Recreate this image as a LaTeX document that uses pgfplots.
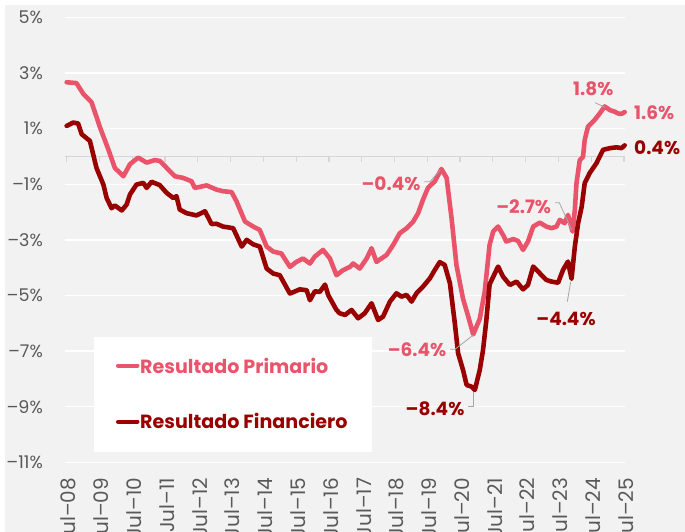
\documentclass[border=0pt]{standalone}
\usepackage{pgfplots}
\pgfplotsset{compat=1.18}
\usepackage{fontspec}
\setmainfont{Poppins}
\definecolor{prim}{HTML}{E9546B}
\definecolor{fin}{HTML}{990000}
\definecolor{bg}{HTML}{F2F2F2}
\definecolor{ticktext}{HTML}{595959}
\definecolor{leader}{HTML}{A6A6A6}
\definecolor{zeroline}{HTML}{D6D6D6}
\begin{document}
\begin{tikzpicture}[x=1pt,y=1pt]
\fill[white] (0,0) rectangle (685,532);
\fill[bg] (5,0) rectangle (685,527);
\path[use as bounding box] (0,0) rectangle (685,532);
\begin{axis}[
  at={(65pt,69.7pt)}, anchor=south west, scale only axis,
  width=560pt, height=444.8pt,
  xmin=2008.45, xmax=2025.53, ymin=-11, ymax=5,
  axis line style={draw=none}, major tick length=0pt,
  ytick={-11,-9,-7,-5,-3,-1,1,3,5},
  yticklabels={\textendash11\%,\textendash9\%,\textendash7\%,\textendash5\%,\textendash3\%,\textendash1\%,1\%,3\%,5\%},
  ymajorgrids, grid style={white, line width=1.5pt},
  xtick={2008.5,2009.5,2010.5,2011.5,2012.5,2013.5,2014.5,2015.5,2016.5,2017.5,2018.5,2019.5,2020.5,2021.5,2022.5,2023.5,2024.5,2025.5},
  xticklabels={Jul\textendash08,Jul\textendash09,Jul\textendash10,Jul\textendash11,Jul\textendash12,Jul\textendash13,Jul\textendash14,Jul\textendash15,Jul\textendash16,Jul\textendash17,Jul\textendash18,Jul\textendash19,Jul\textendash20,Jul\textendash21,Jul\textendash22,Jul\textendash23,Jul\textendash24,Jul\textendash25},
  yticklabel style={anchor=east, inner sep=0pt, xshift=-22pt, text=ticktext, font=\fontsize{17.5}{20}\selectfont},
  xticklabel shift=15.5pt,
  xticklabel style={rotate=90, anchor=east, inner sep=0pt, yshift=-2pt, text=ticktext, font=\fontsize{20}{23}\selectfont},
  clip=false,
]
\draw[zeroline, line width=1.5pt] (axis cs:2008.45,0) -- (axis cs:2025.53,0);
\pgfplotsinvokeforeach{0,...,17}{\draw[zeroline, line width=1.2pt] (axis cs:{2008.5+#1},0) -- ++(0pt,-6pt);}
\addplot[prim, line width=4.6pt, line join=round, line cap=round] coordinates {
(2008.50,2.67)(2008.80,2.64)(2009.01,2.25)(2009.26,1.95)(2009.52,1.04)(2009.77,0.26)
(2009.97,-0.41)(2010.23,-0.71)(2010.43,-0.28)(2010.68,-0.04)(2010.94,-0.22)(2011.19,-0.13)
(2011.34,-0.16)(2011.55,-0.41)(2011.80,-0.71)(2012.05,-0.77)(2012.31,-0.89)(2012.41,-1.13)
(2012.77,-1.04)(2013.07,-1.19)(2013.27,-1.25)(2013.53,-1.28)(2013.68,-1.61)(2013.94,-2.34)
(2014.19,-2.52)(2014.39,-2.64)(2014.60,-3.24)(2014.80,-3.42)(2015.05,-3.49)(2015.31,-3.97)
(2015.51,-3.79)(2015.71,-3.67)(2015.92,-3.85)(2016.07,-3.60)(2016.32,-3.36)(2016.53,-3.67)
(2016.73,-4.27)(2016.93,-4.09)(2017.14,-3.97)(2017.24,-3.85)(2017.44,-4.03)(2017.65,-3.67)
(2017.80,-3.30)(2017.95,-3.79)(2018.26,-3.54)(2018.46,-3.18)(2018.66,-2.76)(2018.87,-2.58)
(2019.07,-2.34)(2019.22,-2.04)(2019.37,-1.55)(2019.52,-1.13)(2019.73,-0.89)(2019.93,-0.45)
(2020.09,-0.77)(2020.24,-2.22)(2020.39,-3.91)(2020.59,-5.12)(2020.74,-5.72)(2020.90,-6.40)
(2021.10,-5.84)(2021.25,-4.87)(2021.40,-3.18)(2021.51,-2.70)(2021.66,-2.52)(2021.81,-2.82)
(2021.91,-3.06)(2022.12,-2.97)(2022.27,-3.04)(2022.42,-3.36)(2022.57,-3.06)(2022.73,-2.52)
(2022.93,-2.38)(2023.13,-2.52)(2023.29,-2.58)(2023.44,-2.52)(2023.54,-2.28)(2023.69,-2.40)
(2023.79,-2.10)(2023.93,-2.70)(2024.00,-1.92)(2024.05,-0.96)(2024.15,-0.13)(2024.25,-0.01)
(2024.30,0.59)(2024.40,1.07)(2024.60,1.31)(2024.76,1.55)(2024.91,1.80)(2025.07,1.67)
(2025.22,1.61)(2025.32,1.55)(2025.42,1.53)(2025.52,1.60)
};
\addplot[fin, line width=4.6pt, line join=round, line cap=round] coordinates {
(2008.50,1.10)(2008.70,1.22)(2008.85,1.19)(2008.96,0.80)(2009.21,0.56)(2009.41,-0.41)
(2009.62,-1.01)(2009.72,-1.49)(2009.87,-1.86)(2009.97,-1.76)(2010.18,-1.94)(2010.33,-1.73)
(2010.43,-1.37)(2010.63,-1.01)(2010.84,-0.95)(2010.94,-1.13)(2011.09,-0.91)(2011.34,-1.03)
(2011.55,-1.31)(2011.75,-1.49)(2011.85,-1.43)(2011.95,-1.91)(2012.16,-2.04)(2012.46,-2.12)
(2012.72,-1.97)(2012.92,-2.43)(2013.07,-2.42)(2013.27,-2.52)(2013.58,-2.58)(2013.84,-3.24)
(2013.99,-3.00)(2014.19,-3.16)(2014.39,-3.24)(2014.60,-4.03)(2014.80,-4.21)(2015.00,-4.27)
(2015.31,-4.93)(2015.61,-4.78)(2015.82,-4.81)(2015.92,-5.17)(2016.07,-4.85)(2016.22,-4.87)
(2016.38,-4.61)(2016.48,-4.99)(2016.73,-5.52)(2016.83,-5.64)(2016.99,-5.70)(2017.19,-5.52)
(2017.39,-5.82)(2017.59,-5.64)(2017.80,-5.28)(2018.00,-5.88)(2018.15,-5.76)(2018.36,-5.22)
(2018.56,-4.92)(2018.71,-5.04)(2018.87,-4.98)(2019.02,-5.22)(2019.17,-4.92)(2019.37,-4.68)
(2019.58,-4.38)(2019.73,-4.08)(2019.88,-3.80)(2020.03,-3.90)(2020.19,-4.56)(2020.34,-6.00)
(2020.44,-7.08)(2020.59,-7.68)(2020.70,-8.22)(2020.85,-8.28)(2020.95,-8.40)(2021.10,-7.68)
(2021.20,-6.96)(2021.30,-5.90)(2021.40,-4.60)(2021.61,-4.08)(2021.66,-3.96)(2021.81,-4.32)
(2022.02,-4.62)(2022.22,-4.50)(2022.42,-4.78)(2022.57,-4.62)(2022.73,-3.96)(2022.93,-4.20)
(2023.13,-4.44)(2023.29,-4.50)(2023.49,-4.54)(2023.64,-4.08)(2023.79,-3.78)(2023.90,-4.40)
(2024.00,-3.24)(2024.10,-2.40)(2024.21,-1.80)(2024.30,-0.96)(2024.45,-0.60)(2024.66,-0.24)
(2024.86,0.24)(2025.07,0.30)(2025.27,0.33)(2025.42,0.30)(2025.52,0.40)
};
\end{axis}
% leader lines
\draw[leader, line width=0.8pt] (424.3,350.3) -- (430,350.3) -- (440,362);
\draw[leader, line width=0.8pt] (450,182.7) -- (455,182.7) -- (473.3,197);
\draw[leader, line width=0.8pt] (468.3,125.3) -- (473.3,125.3) -- (473.3,140.3);
\draw[leader, line width=0.8pt] (555,329.3) -- (559.3,329.3) -- (571.7,302);
\draw[leader, line width=0.8pt] (567.3,230.3) -- (570.7,250.3);
\draw[leader, line width=0.8pt] (595,429.3) -- (605,424.7);
% annotations
\begin{scope}[every node/.style={font=\fontsize{18.5}{22}\bfseries\selectfont, inner sep=0pt}]
\node[text=prim] at (391,348) {\textendash0.4\%};
\node[text=prim] at (417,182) {\textendash6.4\%};
\node[text=fin] at (435,123) {\textendash8.4\%};
\node[text=prim] at (523.7,325.3) {\textendash2.7\%};
\node[text=fin] at (566,213) {\textendash4.4\%};
\node[text=prim] at (593.3,443) {1.8\%};
\node[text=prim, anchor=west] at (634,419) {1.6\%};
\node[text=fin, anchor=west] at (634,384) {0.4\%};
\end{scope}
% legend
\fill[white] (94,80.3) rectangle (371.7,194.7);
\draw[prim, line width=4pt, line cap=round] (118,166.3) -- (137.5,166.3);
\draw[fin, line width=4pt, line cap=round] (118,110.3) -- (137.5,110.3);
\node[anchor=west, inner sep=0pt, text=prim, font=\fontsize{19.1}{22}\bfseries\selectfont] at (140,166.3) {Resultado Primario};
\node[anchor=west, inner sep=0pt, text=fin, font=\fontsize{19.1}{22}\bfseries\selectfont] at (140,111.3) {Resultado Financiero};
\end{tikzpicture}
\end{document}
